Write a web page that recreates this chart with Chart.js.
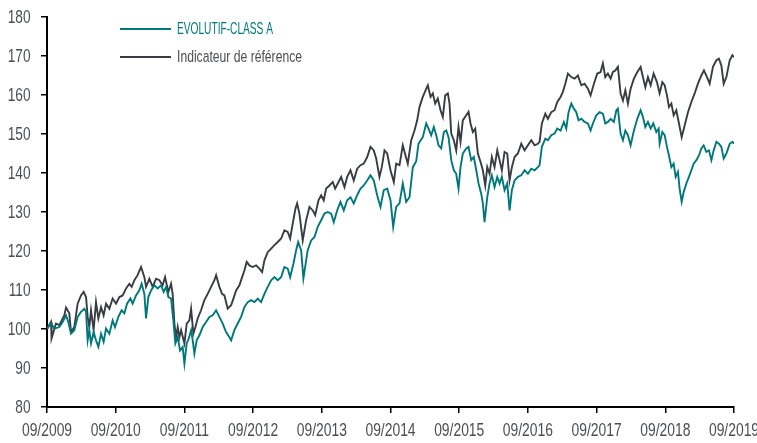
<!DOCTYPE html>
<html>
<head>
<meta charset="utf-8">
<script src="https://cdn.jsdelivr.net/npm/chart.js@4.4.1/dist/chart.umd.min.js"></script>
<style>
html,body{margin:0;padding:0;background:#fff;}
#wrap{position:relative;width:757px;height:443px;}
</style>
</head>
<body>
<div id="wrap"><canvas id="c" width="757" height="443"></canvas></div>
<script>
// Tick labels (x axis: months since 09/2009, one tick per year)
const tickLabels = ["09/2009","09/2010","09/2011","09/2012","09/2013","09/2014","09/2015","09/2016","09/2017","09/2018","09/2019"];
const seriesNames = ["EVOLUTIF-CLASS A", "Indicateur de référence"];

// EVOLUTIF-CLASS A : months since 09/2009 and values (base 100)
const fundMonths = [0,0.70,1.28,2.15,2.73,3.32,3.72,4.19,4.77,5.35,5.94,6.52,6.82,7.10,7.39,7.69,8.14,8.56,8.97,9.44,9.89,10.31,10.89,11.46,11.88,12.46,13.04,13.51,13.98,14.56,14.96,15.55,16.13,16.53,17.01,17.30,17.70,18.18,18.75,19.33,19.92,20.38,20.80,21.20,21.67,22.07,22.42,22.83,23.24,23.70,24.00,24.40,24.75,25.17,25.45,25.74,26.15,26.62,27.19,27.79,28.37,28.94,29.54,30.11,30.69,31.28,31.86,32.16,32.73,33.31,33.90,34.48,35.06,35.65,36.23,36.81,37.40,37.98,38.55,39.15,39.73,40.30,40.90,41.47,42.05,42.47,43.05,43.52,43.87,44.39,44.79,45.54,46.14,46.72,47.29,47.89,48.46,49.04,49.63,50.09,50.68,51.26,51.84,52.43,53.01,53.58,54.18,54.76,55.33,55.93,56.50,57.08,57.67,58.25,58.83,59.42,60.00,60.47,60.99,61.57,62.15,62.74,63.32,63.90,64.49,64.89,65.64,66.24,66.64,67.11,67.57,67.99,68.39,68.86,69.32,69.74,70.14,70.61,71.06,71.48,71.88,72.23,72.63,73.23,73.63,74.10,74.55,74.98,75.38,75.85,76.13,76.43,76.90,77.30,77.70,78.17,78.65,79.05,79.45,79.92,80.39,80.80,81.20,81.67,82.25,82.84,83.42,84.00,84.59,85.17,85.74,86.04,86.44,87.04,87.49,88.08,88.66,89.13,89.71,90.28,90.70,91.10,91.58,92.03,92.45,92.85,93.33,93.90,94.48,94.95,95.35,95.95,96.52,97.10,97.52,97.97,98.45,99.02,99.45,99.72,100.19,100.60,101.02,101.47,101.94,102.52,103.11,103.69,104.09,104.51,104.97,105.44,105.91,106.43,106.84,107.01,107.48,107.89,108.29,108.64,109.06,109.46,109.81,110.21,110.50,110.86,111.21,111.68,112.13,112.55,112.95,113.43,113.88,114.30,114.70,115.17,115.63,116.05,116.45,116.92,117.37,117.79,118.20,118.67,119.25,119.72,120];
const fundValues = [100.0,101.5,100.1,100.5,101.8,103.5,101.8,98.8,99.7,103.1,104.4,105.2,104.4,97.1,99.7,96.3,99.2,97.1,95.4,98.8,96.7,100.1,98.8,102.2,100.5,103.1,104.8,104.0,106.5,107.8,106.5,108.6,109.9,111.6,109.0,102.7,108.2,109.9,111.2,110.4,111.2,109.5,110.8,108.2,107.8,102.2,96.3,97.9,94.5,95.4,91.1,96.3,97.5,99.7,97.1,93.7,97.1,98.4,100.5,101.8,103.1,103.5,104.8,103.1,101.4,99.2,97.9,97.1,99.7,101.4,103.1,105.6,106.9,107.4,106.9,107.8,106.9,109.0,110.8,112.5,113.3,112.5,113.3,115.9,115.5,113.3,116.8,120.2,122.3,120.2,113.0,120.2,122.7,123.6,126.2,127.9,129.6,130.0,129.6,127.4,130.4,132.6,130.4,133.0,133.8,132.2,134.3,136.0,136.8,138.1,139.4,138.1,134.3,131.3,135.6,136.0,133.0,126.2,131.3,132.2,137.3,132.6,133.8,141.5,143.0,147.5,149.2,152.7,151.4,149.7,151.8,149.7,147.1,146.3,150.5,150.9,149.2,143.3,140.7,139.8,136.0,141.5,145.0,146.3,146.7,143.3,144.1,140.7,137.3,134.7,132.2,127.4,133.8,137.3,139.4,136.4,139.0,137.3,139.0,135.6,137.3,130.4,135.6,138.1,139.0,139.4,140.7,139.8,141.1,140.7,141.5,142.0,146.7,148.8,148.4,149.7,150.1,151.4,150.9,153.1,151.4,155.6,157.8,156.5,155.6,153.5,153.9,153.1,152.7,150.9,152.7,154.8,155.6,155.2,152.7,153.1,153.9,153.1,156.1,156.5,150.1,148.4,150.9,149.7,147.1,150.9,153.9,156.1,154.4,151.8,153.1,151.4,152.7,150.5,151.4,147.5,150.5,149.7,146.7,144.5,141.5,142.4,139.0,140.3,136.0,132.6,135.1,137.3,139.0,140.7,142.4,143.3,144.5,146.3,147.1,145.4,145.8,143.3,145.8,148.0,147.5,146.7,143.7,145.0,147.5,148.0,147.5];

// Indicateur de référence : months since 09/2009 and values (base 100)
const refMonths = [0,0.70,0.80,1.57,2.15,3.02,3.32,3.90,4.19,4.77,5.35,5.94,6.40,6.82,7.10,7.39,7.69,8.14,8.56,8.97,9.44,9.89,10.31,10.89,11.46,12.06,12.64,13.21,13.81,14.38,14.79,15.26,15.83,16.43,17.01,17.30,17.88,18.46,19.05,19.63,20.20,20.62,21.20,21.67,21.95,22.25,22.54,22.83,23.12,23.42,24.00,24.40,24.87,25.17,25.57,25.92,26.32,26.91,27.49,28.07,28.66,29.24,29.54,30.11,30.58,30.99,31.56,32.16,32.56,33.03,33.61,34.08,34.48,34.88,35.36,35.93,36.53,37.10,37.58,37.98,38.55,39.15,39.73,40.30,40.90,41.47,42.05,42.47,42.92,43.40,43.69,44.09,44.67,45.27,45.84,46.42,46.84,47.42,47.89,48.34,48.76,49.34,49.91,50.33,50.79,51.38,51.96,52.43,53.01,53.58,54.18,54.76,55.33,55.93,56.50,57.08,57.50,58.07,58.48,58.95,59.42,60.00,60.58,60.99,61.57,62.15,62.62,63.02,63.62,64.19,64.66,65.06,65.64,66.24,66.52,66.99,67.39,67.81,68.26,68.74,69.14,69.56,70.02,70.31,70.61,71.06,71.48,71.88,72.23,72.63,73.23,73.63,73.98,74.38,74.80,75.26,75.73,76.13,76.55,76.90,77.30,77.70,78.17,78.65,79.05,79.45,79.92,80.39,80.80,81.20,81.67,82.25,82.84,83.42,84.00,84.59,85.17,85.74,86.04,86.44,87.04,87.49,88.08,88.66,89.13,89.71,90.11,90.53,90.99,91.58,92.16,92.73,93.33,93.90,94.48,94.95,95.53,96.12,96.70,97.10,97.52,97.97,98.45,98.85,99.27,99.72,100.19,100.60,101.02,101.47,101.94,102.52,103.11,103.69,104.09,104.51,104.97,105.44,105.96,106.54,107.01,107.48,107.89,108.29,108.64,109.06,109.46,109.93,110.39,110.86,111.38,111.96,112.55,113.13,113.70,114.30,114.75,115.28,115.75,116.33,116.92,117.37,117.79,118.20,118.67,119.25,119.72,120];
const refValues = [100.0,101.8,97.6,101.4,101.0,103.5,105.5,104.0,99.2,100.5,106.5,108.6,109.5,108.2,103.1,100.5,104.8,99.7,106.9,102.7,105.6,103.5,106.5,105.2,107.8,106.5,108.2,108.6,110.4,111.6,110.8,112.5,113.8,115.9,113.3,110.8,112.9,110.8,112.9,112.5,111.2,113.3,109.5,111.6,109.0,101.4,97.9,100.5,97.9,99.7,96.3,101.4,102.2,105.2,98.8,100.5,102.7,104.8,107.4,109.0,110.8,112.5,113.8,110.8,109.0,108.6,105.2,106.1,107.8,109.9,111.2,113.3,115.0,117.2,116.3,115.9,116.3,115.5,114.6,117.6,119.7,120.6,121.5,122.3,123.2,125.3,124.9,123.2,127.0,130.9,132.2,129.6,122.7,127.9,131.3,130.4,129.2,133.0,134.3,133.0,136.0,136.8,137.7,136.0,137.3,139.0,136.4,139.0,140.7,138.1,141.1,142.0,142.4,144.1,146.7,145.8,143.7,139.0,141.5,145.8,145.0,140.7,137.7,142.4,142.0,147.1,144.5,142.4,148.4,150.9,153.5,156.9,159.5,161.6,162.5,159.5,160.4,157.8,159.1,156.1,154.4,159.9,160.4,157.8,150.1,148.4,145.8,151.8,148.0,153.5,154.8,155.7,152.7,150.5,151.4,145.0,142.8,140.7,136.8,141.5,139.8,144.1,141.5,145.8,143.3,140.7,145.4,145.0,138.1,141.5,144.1,145.0,147.5,145.8,147.1,148.4,147.1,147.5,148.0,152.7,155.2,153.9,155.6,156.1,158.2,159.5,160.8,162.9,165.5,164.6,164.2,165.0,162.5,162.9,161.6,159.9,162.9,165.5,165.9,168.1,164.6,165.5,164.2,165.9,166.3,167.2,160.4,158.6,161.2,157.8,161.6,164.2,165.9,167.2,164.6,162.0,164.6,162.5,165.5,163.3,160.4,163.3,162.5,159.9,156.9,157.8,154.8,156.1,152.7,149.2,152.2,155.6,158.2,160.4,162.9,165.0,166.3,164.6,162.9,167.2,168.9,169.3,167.6,162.9,164.6,168.9,170.2,169.7];

const TEAL = '#00787a';
const DARK = '#3a3c43';
const FONT = '"Liberation Sans", Arial, sans-serif';

function pts(xs, ys){ return xs.map((x,i)=>({x:x, y:ys[i]})); }

// draw condensed text (the original uses a narrow typeface)
function condensedText(ctx, text, x, y, size, sx, align){
  ctx.font = size + 'px ' + FONT;
  const w = ctx.measureText(text).width * sx;
  let x0 = x;
  if (align === 'right') x0 = x - w;
  else if (align === 'center') x0 = x - w / 2;
  ctx.save();
  ctx.translate(x0, y);
  ctx.scale(sx, 1);
  ctx.textAlign = 'left';
  ctx.fillText(text, 0, 0);
  ctx.restore();
}

// Tick labels drawn at the library's own tick positions, in a condensed style
const tickLabelPlugin = {
  id: 'condensedTicks',
  afterDraw(chart){
    const ctx = chart.ctx;
    const xs = chart.scales.x, ys = chart.scales.y;
    ctx.save();
    ctx.fillStyle = '#4d4e53';
    ctx.textBaseline = 'middle';
    ys.ticks.forEach(t => {
      const py = ys.getPixelForValue(t.value);
      condensedText(ctx, String(t.value), 30.5, py + 0.5, 19, 0.72, 'right');
    });
    xs.ticks.forEach(t => {
      const px = xs.getPixelForValue(t.value);
      condensedText(ctx, tickLabels[Math.round(t.value / 12)], px, 431, 19, 0.73, 'center');
    });
    ctx.restore();
  }
};

const legendPlugin = {
  id: 'customLegend',
  afterDraw(chart){
    const ctx = chart.ctx;
    const items = [
      {label: seriesNames[0], color: TEAL, text: TEAL, y: 29, w: 96},
      {label: seriesNames[1], color: DARK, text: '#4d4e53', y: 57, w: 125}
    ];
    ctx.save();
    items.forEach(it => {
      ctx.strokeStyle = it.color;
      ctx.lineWidth = 2;
      ctx.beginPath();
      ctx.moveTo(120, it.y);
      ctx.lineTo(171, it.y);
      ctx.stroke();
      ctx.font = '17px ' + FONT;
      ctx.fillStyle = it.text;
      ctx.textBaseline = 'middle';
      const m = ctx.measureText(it.label).width;
      condensedText(ctx, it.label, 177, it.y + 0.5, 17, it.w / m, 'left');
    });
    ctx.restore();
  }
};

new Chart(document.getElementById('c'), {
  type: 'line',
  data: {
    datasets: [
      {label: seriesNames[0], data: pts(fundMonths, fundValues), borderColor: TEAL, borderWidth: 1.9, pointRadius: 0, tension: 0, fill: false},
      {label: seriesNames[1], data: pts(refMonths, refValues), borderColor: DARK, borderWidth: 1.9, pointRadius: 0, tension: 0, fill: false}
    ]
  },
  options: {
    responsive: false,
    animation: false,
    layout: {padding: {top: 17, right: 23, left: 0, bottom: 0}},
    plugins: {legend: {display: false}, tooltip: {enabled: false}},
    scales: {
      x: {
        type: 'linear', min: 0, max: 120,
        afterFit(s){ s.height = 36; },
        border: {display: true, color: '#000', width: 2},
        grid: {display: true, drawOnChartArea: false, drawTicks: true, tickLength: 6, color: '#000', lineWidth: 1.5},
        ticks: {display: false, stepSize: 12, autoSkip: false, maxRotation: 0}
      },
      y: {
        min: 80, max: 180,
        afterFit(s){ s.width = 47; },
        border: {display: true, color: '#000', width: 2},
        grid: {display: true, drawOnChartArea: false, drawTicks: true, tickLength: 6, color: '#000', lineWidth: 1.5},
        ticks: {display: false, stepSize: 10}
      }
    }
  },
  plugins: [tickLabelPlugin, legendPlugin]
});
</script>
</body>
</html>
